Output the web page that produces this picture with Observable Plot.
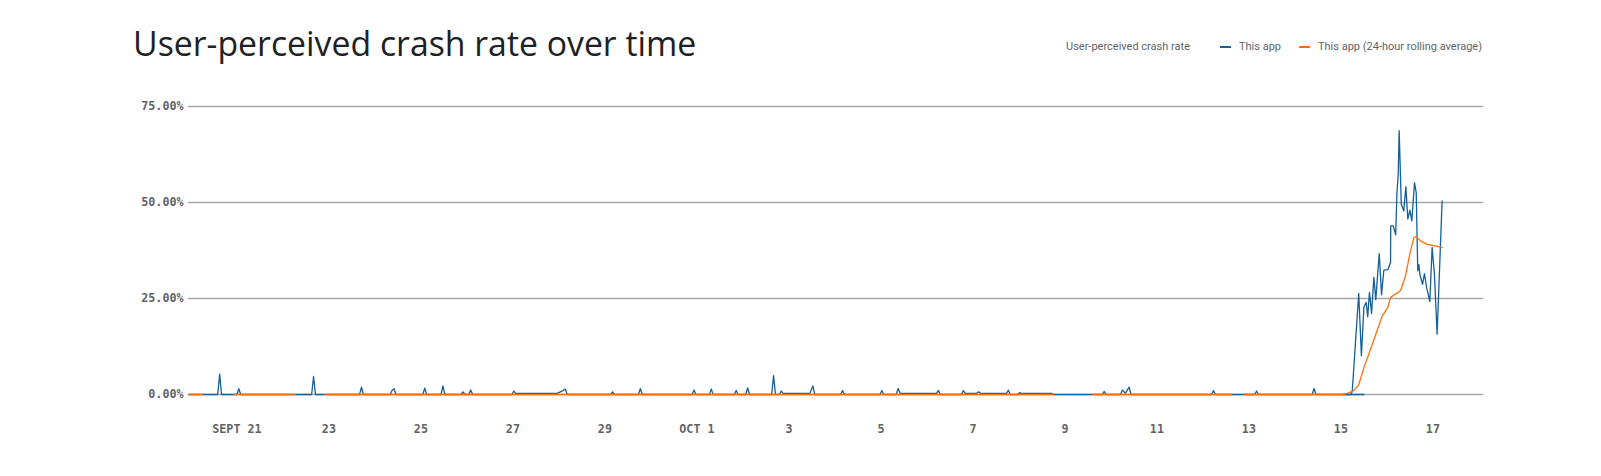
<!DOCTYPE html>
<html><head><meta charset="utf-8">
<script src="https://cdn.jsdelivr.net/npm/d3@7"></script>
<script src="https://cdn.jsdelivr.net/npm/@observablehq/plot@0.6"></script>
<style>
body{margin:0;background:#fff;}
#wrap{position:relative;width:1601px;height:476px;overflow:hidden;}
#head{position:relative;height:80px;}
#title{position:absolute;left:133px;top:21px;font:400 33.8px "Open Sans";color:#202124;white-space:nowrap;line-height:44px;}
.leg{position:absolute;top:40px;font:400 11px Roboto;color:#5f6368;white-space:nowrap;line-height:13px;}
.sw{position:absolute;top:46px;width:11px;height:2px;}
</style></head>
<body><div id="wrap">
<div id="head">
<div id="title">User-perceived crash rate over time</div>
<div class="leg" style="left:1066px">User-perceived crash rate</div>
<div class="sw" style="left:1220px;background:#14609a"></div>
<div class="leg" style="left:1239px">This app</div>
<div class="sw" style="left:1299px;background:#ff6d0a"></div>
<div class="leg" style="left:1318px">This app (24-hour rolling average)</div>
</div>
<div id="chart"></div>
</div>
<script>
const appTimes = ["2023-09-19T23:00","2023-09-20T14:00","2023-09-20T15:00","2023-09-20T16:00","2023-09-21T00:00","2023-09-21T01:00","2023-09-21T02:00","2023-09-22T15:00","2023-09-22T16:00","2023-09-22T17:00","2023-09-23T16:00","2023-09-23T17:00","2023-09-23T18:00","2023-09-24T08:00","2023-09-24T09:00","2023-09-24T10:00","2023-09-24T11:00","2023-09-25T01:00","2023-09-25T02:00","2023-09-25T03:00","2023-09-25T10:30","2023-09-25T11:30","2023-09-25T12:30","2023-09-25T21:00","2023-09-25T22:00","2023-09-25T23:00","2023-09-26T01:00","2023-09-26T02:00","2023-09-26T03:00","2023-09-26T23:30","2023-09-27T00:30","2023-09-27T01:30","2023-09-27T23:00","2023-09-28T01:40","2023-09-28T03:20","2023-09-28T04:20","2023-09-29T03:00","2023-09-29T04:00","2023-09-29T05:00","2023-09-29T17:30","2023-09-29T18:30","2023-09-29T19:30","2023-09-30T21:30","2023-09-30T22:30","2023-09-30T23:30","2023-10-01T06:30","2023-10-01T07:30","2023-10-01T08:30","2023-10-01T19:30","2023-10-01T20:30","2023-10-01T21:30","2023-10-02T01:30","2023-10-02T02:30","2023-10-02T03:30","2023-10-02T15:00","2023-10-02T16:00","2023-10-02T17:00","2023-10-02T19:00","2023-10-02T20:00","2023-10-02T21:00","2023-10-03T11:00","2023-10-03T12:30","2023-10-03T13:30","2023-10-04T03:00","2023-10-04T04:00","2023-10-04T05:00","2023-10-04T23:30","2023-10-05T00:30","2023-10-05T01:30","2023-10-05T08:00","2023-10-05T09:00","2023-10-05T10:00","2023-10-06T05:00","2023-10-06T06:00","2023-10-06T07:00","2023-10-06T18:00","2023-10-06T19:00","2023-10-06T20:00","2023-10-07T02:00","2023-10-07T03:00","2023-10-07T04:00","2023-10-07T17:30","2023-10-07T18:30","2023-10-07T19:30","2023-10-07T23:30","2023-10-08T00:30","2023-10-08T01:00","2023-10-08T17:00","2023-10-08T18:00","2023-10-09T19:30","2023-10-09T20:30","2023-10-09T21:30","2023-10-10T05:00","2023-10-10T06:00","2023-10-10T07:30","2023-10-10T09:30","2023-10-10T10:30","2023-10-12T04:30","2023-10-12T05:30","2023-10-12T06:30","2023-10-13T03:00","2023-10-13T04:00","2023-10-13T05:00","2023-10-14T09:00","2023-10-14T10:00","2023-10-14T11:00","2023-10-15T05:00","2023-10-15T05:54","2023-10-15T09:18","2023-10-15T10:42","2023-10-15T12:00","2023-10-15T13:12","2023-10-15T14:00","2023-10-15T14:54","2023-10-15T16:00","2023-10-15T17:12","2023-10-15T18:12","2023-10-15T20:00","2023-10-15T21:12","2023-10-15T22:24","2023-10-16T00:30","2023-10-16T01:54","2023-10-16T02:00","2023-10-16T03:18","2023-10-16T04:36","2023-10-16T05:12","2023-10-16T05:54","2023-10-16T06:24","2023-10-16T07:30","2023-10-16T08:48","2023-10-16T09:54","2023-10-16T10:54","2023-10-16T12:00","2023-10-16T13:00","2023-10-16T14:24","2023-10-16T15:18","2023-10-16T16:06","2023-10-16T16:42","2023-10-16T17:12","2023-10-16T18:36","2023-10-16T19:36","2023-10-16T20:42","2023-10-16T22:24","2023-10-16T23:36","2023-10-17T00:48","2023-10-17T02:12","2023-10-17T04:48"];
const appRates = [0,0,5.3,0,0,1.5,0,0,4.7,0,0,1.9,0,0,1.1,1.5,0,0,1.65,0,0,2.25,0,0,0.7,0,0,1.2,0,0,0.9,0.3,0.3,0.9,1.4,0,0,0.7,0,0,1.55,0,0,1.2,0,0,1.4,0,0,1.05,0,0,1.7,0,0,4.9,0,0,0.9,0.3,0.3,2.25,0,0,1.0,0,0,1.05,0,0,1.55,0.3,0.3,1.05,0,0,1.0,0.3,0.3,0.7,0.3,0.3,1.1,0,0,0.5,0.3,0.3,0,0,0.8,0,0,1.2,0.3,1.9,0,0,1.0,0,0,0.9,0,0,1.55,0,0,0.7,26.3,10.1,22.7,24.0,20.2,26.6,21.1,30.5,24.7,36.7,26.0,32.4,32.5,34.4,43.9,43.9,41.6,52.2,57.3,68.7,49.6,47.8,54.1,45.7,48.0,45.2,55.2,52.6,32.2,33.8,31.3,28.7,31.5,27.9,24.2,38.3,31.3,15.7,50.4];

const tailTimes = ["2023-10-15T01:00","2023-10-15T12:00"];
const tailRates = [0,0];

const avgTimes = ["2023-09-19T23:00","2023-09-20T06:00","2023-09-20T14:00","2023-09-20T22:30","2023-09-22T06:30","2023-09-22T14:00","2023-09-22T22:00","2023-10-08T17:30","2023-10-09T02:00","2023-10-09T14:30","2023-10-12T15:00","2023-10-12T18:00","2023-10-12T21:30","2023-10-15T01:00","2023-10-15T03:18","2023-10-15T06:48","2023-10-15T09:18","2023-10-15T12:00","2023-10-15T16:24","2023-10-15T21:36","2023-10-16T00:30","2023-10-16T01:54","2023-10-16T07:06","2023-10-16T09:42","2023-10-16T12:18","2023-10-16T14:06","2023-10-16T15:24","2023-10-16T17:30","2023-10-16T21:00","2023-10-17T04:48"];
const avgRates = [0,0,null,0,0,null,0,0,null,0,0,null,0,0,0.3,1.0,2.5,7.0,13.1,20.5,22.7,25.3,27.0,30.9,37.4,40.9,41.1,40.0,39.1,38.3];

const tickTimes = ["2023-09-21T00:00","2023-09-23T00:00","2023-09-25T00:00","2023-09-27T00:00","2023-09-29T00:00","2023-10-01T00:00","2023-10-03T00:00","2023-10-05T00:00","2023-10-07T00:00","2023-10-09T00:00","2023-10-11T00:00","2023-10-13T00:00","2023-10-15T00:00","2023-10-17T00:00"];
const tickLabels = ["SEPT 21","23","25","27","29","OCT 1","3","5","7","9","11","13","15","17"];
const yTicks = [0, 25, 50, 75];

const parse = d3.utcParse("%Y-%m-%dT%H:%M");
const rows = (ts, vs) => ts.map((t, i) => ({t: parse(t), v: vs[i]}));
const appData = rows(appTimes, appRates);
const tailData = rows(tailTimes, tailRates);
const avgData = rows(avgTimes, avgRates);
const tickDates = tickTimes.map(parse);
const labelOf = new Map(tickDates.map((d, i) => [+d, tickLabels[i]]));

const chart = Plot.plot({
  width: 1601, height: 396,
  marginLeft: 188, marginRight: 118, marginTop: 26, marginBottom: 82,
  style: {fontFamily: "DejaVu Sans Mono", fontSize: "11.7px", fontWeight: "bold", color: "#5f6368", background: "#fff"},
  x: {type: "utc", domain: [parse("2023-09-19T22:45"), parse("2023-10-18T02:24")], ticks: tickDates, tickFormat: d => labelOf.get(+d), tickSize: 0, tickPadding: 30, label: null},
  y: {domain: [0, 75], ticks: yTicks, tickFormat: d => d.toFixed(2) + "%", tickSize: 0, tickPadding: 5, label: null},
  marks: [
    Plot.ruleY(yTicks, {stroke: "#a6a6a6", strokeWidth: 1.5}),
    Plot.line(appData, {x: "t", y: "v", stroke: "#14609a", strokeWidth: 1.3}),
    Plot.line(tailData, {x: "t", y: "v", stroke: "#14609a", strokeWidth: 1.5}),
    Plot.line(avgData, {x: "t", y: "v", stroke: "#ff6d0a", strokeWidth: 1.3})
  ]
});
document.getElementById("chart").appendChild(chart);
</script>
</body></html>
